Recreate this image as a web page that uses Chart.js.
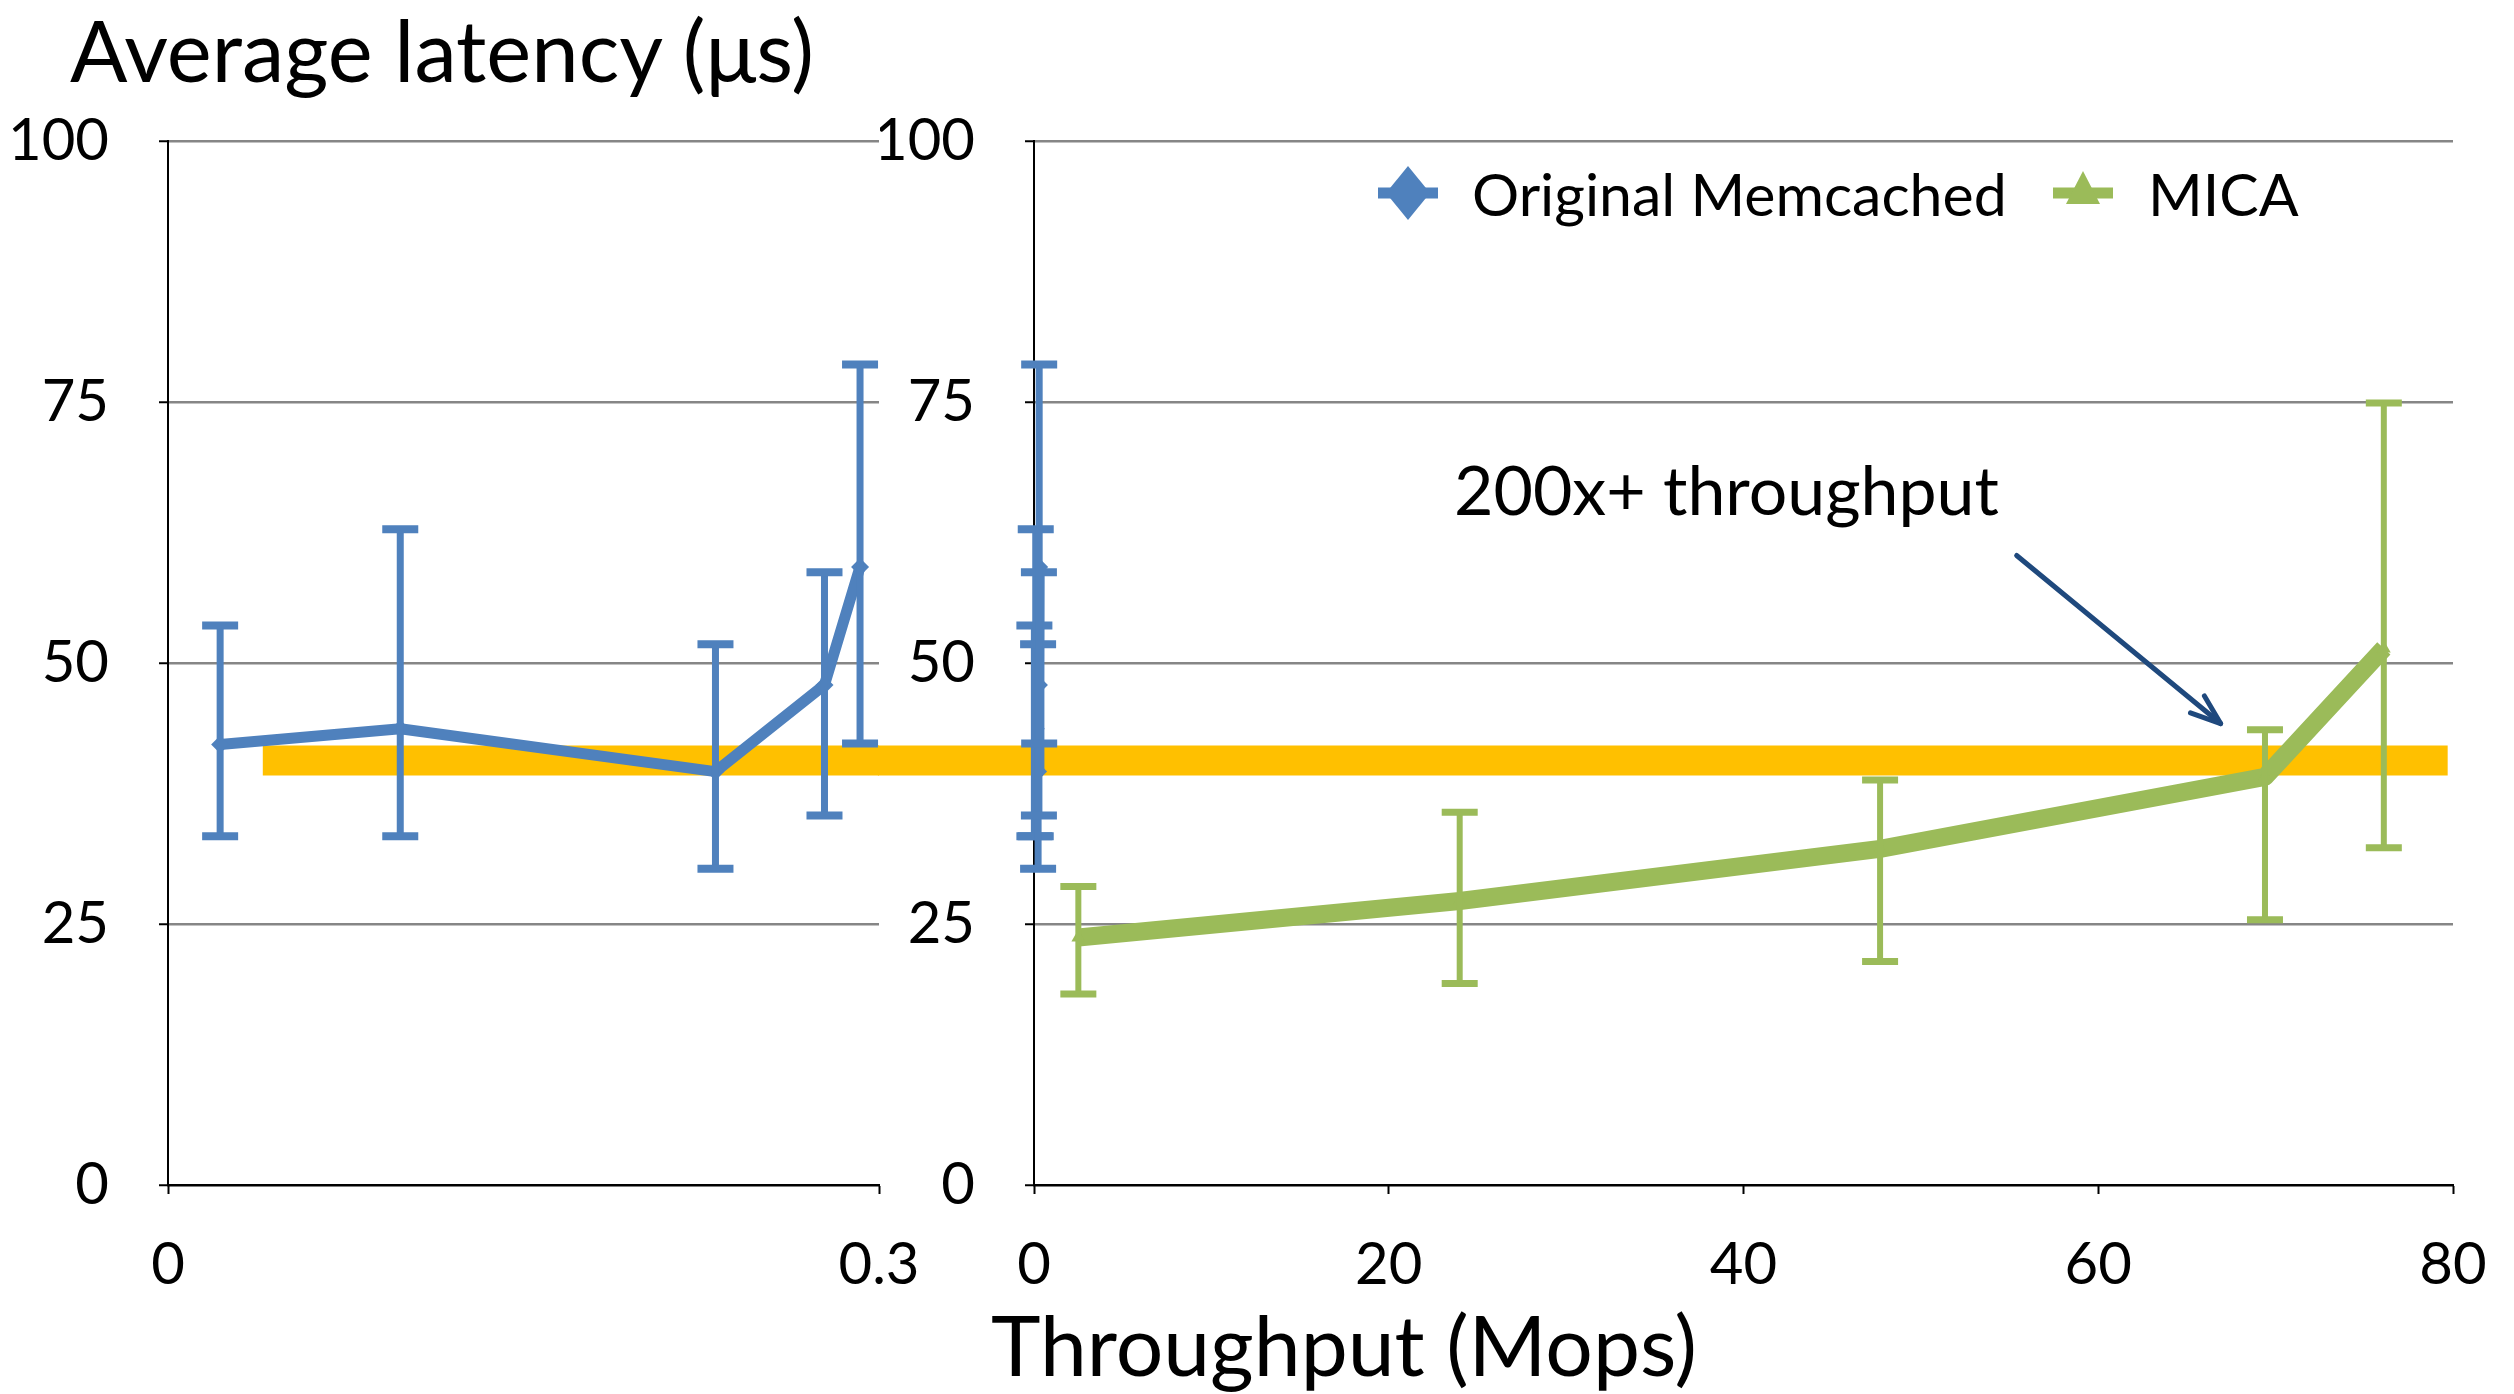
<!DOCTYPE html>
<html>
<head>
<meta charset="utf-8">
<script src="https://cdn.jsdelivr.net/npm/chart.js@4.4.0/dist/chart.umd.min.js"></script>
<style>
  body { margin: 0; background: #fff; }
  #wrap { position: relative; width: 2514px; height: 1394px; overflow: hidden; font-family: Lato, sans-serif; color: #000; }
  #wrap canvas { position: absolute; left: 0; top: 0; }
  .txt { position: absolute; white-space: nowrap; line-height: 1; }
</style>
</head>
<body>
<div id="wrap">
  <canvas id="left" width="2514" height="1394"></canvas>
  <canvas id="right" width="2514" height="1394"></canvas>
  <div class="txt" style="left:70px;top:7px;font-size:85px;">Average latency (μs)</div>
  <div class="txt" style="left:1344px;top:1302px;font-size:84px;transform:translateX(-50%);">Throughput (Mops)</div>
  <div class="txt" style="left:1454px;top:455px;font-size:68px;">200x+ throughput</div>
</div>
<script>
// Original Memcached: throughput (Mops) vs average latency (us), with error range
var memX  = [0.022, 0.098, 0.231, 0.277, 0.292];
var memY  = [42.2, 43.7, 39.6, 47.9, 59.2];
var memLo = [33.4, 33.4, 30.3, 35.4, 42.3];
var memHi = [53.6, 62.8, 51.8, 58.7, 78.6];

// MICA
var micaX  = [2.5, 24.0, 47.7, 69.4, 76.1];
var micaY  = [23.7, 27.2, 32.2, 39.1, 51.4];
var micaLo = [18.3, 19.3, 21.4, 25.4, 32.3];
var micaHi = [28.6, 35.7, 38.8, 43.6, 74.9];

// orange highlight band (same latency level on both panels)
var bandY = 40.65;
var bandLeftX = [0.04, 0.3];
var bandRightX = [-8.8, 79.7];

var yTicks = [0, 25, 50, 75, 100];
var leftXTicks = [0, 0.3];
var rightXTicks = [0, 20, 40, 60, 80];

var BLUE = '#4F81BD', GREEN = '#9BBB59', ORANGE = '#FFC000';

function pts(xs, ys) {
    return xs.map(function(x, i) { return {x: x, y: ys[i]}; });
}

var errorBars = {
    id: 'errorBars',
    afterDatasetsDraw: function(chart) {
        var c = chart.ctx, xs = chart.scales.x, ys = chart.scales.y;
        chart.data.datasets.forEach(function(ds) {
            if (!ds.errLo) return;
            c.save();
            c.strokeStyle = ds.borderColor;
            ds.data.forEach(function(p, j) {
                if (p.x < xs.min || p.x > xs.max) return;
                var px = xs.getPixelForValue(p.x);
                var top = ys.getPixelForValue(ds.errHi[j]);
                var bot = ys.getPixelForValue(ds.errLo[j]);
                c.lineWidth = ds.errWidth;
                c.beginPath(); c.moveTo(px, top); c.lineTo(px, bot); c.stroke();
                c.lineWidth = ds.capThick;
                c.beginPath();
                c.moveTo(px - ds.capHalf, top); c.lineTo(px + ds.capHalf, top);
                c.moveTo(px - ds.capHalf, bot); c.lineTo(px + ds.capHalf, bot);
                c.stroke();
            });
            c.restore();
        });
    }
};

var legendBox = {
    id: 'legendBox',
    afterDraw: function(chart, args, opts) {
        if (!opts.items) return;
        var c = chart.ctx;
        opts.items.forEach(function(it) {
            var ds = chart.data.datasets[it.dataset];
            c.save();
            c.strokeStyle = ds.borderColor;
            c.fillStyle = ds.borderColor;
            c.lineWidth = 11;
            c.beginPath(); c.moveTo(it.x - 30, it.y); c.lineTo(it.x + 30, it.y); c.stroke();
            c.beginPath();
            if (it.marker === 'diamond') {
                c.moveTo(it.x, it.y - 27); c.lineTo(it.x + 22, it.y);
                c.lineTo(it.x, it.y + 27); c.lineTo(it.x - 22, it.y);
            } else {
                c.moveTo(it.x, it.y - 22); c.lineTo(it.x + 17, it.y + 11);
                c.lineTo(it.x - 17, it.y + 11);
            }
            c.closePath();
            c.fill();
            c.fillStyle = '#000';
            c.font = opts.font;
            c.textBaseline = 'alphabetic';
            c.fillText(ds.label, it.textX, opts.baseline);
            c.restore();
        });
    }
};

var arrow = {
    id: 'arrow',
    afterDraw: function(chart, args, o) {
        if (!o.from) return;
        var xs = chart.scales.x, ys = chart.scales.y, c = chart.ctx;
        var x1 = xs.getPixelForValue(o.from[0]), y1 = ys.getPixelForValue(o.from[1]);
        var x2 = xs.getPixelForValue(o.to[0]), y2 = ys.getPixelForValue(o.to[1]);
        var a = Math.atan2(y2 - y1, x2 - x1), h = 32;
        c.save();
        c.strokeStyle = o.color;
        c.lineWidth = 5;
        c.lineCap = 'round';
        c.lineJoin = 'round';
        c.beginPath(); c.moveTo(x1, y1); c.lineTo(x2, y2); c.stroke();
        c.beginPath();
        c.moveTo(x2 - h * Math.cos(a - 0.35), y2 - h * Math.sin(a - 0.35));
        c.lineTo(x2, y2);
        c.lineTo(x2 - h * Math.cos(a + 0.35), y2 - h * Math.sin(a + 0.35));
        c.stroke();
        c.restore();
    }
};

function yScale(axisWidth) {
    return {
        type: 'linear', min: 0, max: 100,
        afterBuildTicks: function(s) { s.ticks = yTicks.map(function(v) { return {value: v}; }); },
        afterFit: function(s) { s.width = axisWidth; },
        grid: {
            color: function(ctx) { return ctx.tick && ctx.tick.value === 0 ? '#000' : '#868686'; },
            lineWidth: 2.5, tickLength: 9, tickColor: '#000', tickWidth: 2
        },
        border: {color: '#000', width: 2},
        ticks: {color: '#000', font: {size: 58}, padding: 50}
    };
}

function xScale(min, max, tickVals) {
    return {
        type: 'linear', min: min, max: max,
        afterBuildTicks: function(s) { s.ticks = tickVals.map(function(v) { return {value: v}; }); },
        // keep the plot edges where the layout padding puts them
        afterFit: function(s) { s.height = 209; s.paddingLeft = 0; s.paddingRight = 0; },
        grid: {drawOnChartArea: false, tickLength: 9, tickColor: '#000', tickWidth: 2},
        border: {color: '#000', width: 2},
        ticks: {color: '#000', font: {size: 58}, padding: 36, maxRotation: 0, autoSkip: false}
    };
}

function memDataset() {
    return {
        label: 'Original Memcached',
        data: pts(memX, memY),
        borderColor: BLUE, backgroundColor: BLUE,
        borderWidth: 11, borderJoinStyle: 'round',
        pointStyle: 'rectRot', pointRadius: 9, pointBorderWidth: 0,
        errLo: memLo, errHi: memHi, errWidth: 7, capHalf: 18, capThick: 8
    };
}

function bandDataset(xr) {
    return {
        label: 'band',
        data: pts(xr, [bandY, bandY]),
        borderColor: ORANGE, borderWidth: 30, borderCapStyle: 'butt',
        pointRadius: 0, clip: false, order: 10
    };
}

Chart.defaults.font.family = 'Lato, sans-serif';
Chart.defaults.color = '#000';

var common = {
    responsive: false, animation: false, devicePixelRatio: 1, events: [],
    plugins: {legend: {display: false}, tooltip: {enabled: false}},
    elements: {line: {tension: 0}}
};

new Chart(document.getElementById('left'), {
    type: 'line',
    data: {datasets: [memDataset(), bandDataset(bandLeftX)]},
    options: Object.assign({}, common, {
        layout: {padding: {left: 0, top: 141, right: 1635, bottom: 0}},
        scales: {x: xScale(0, 0.3, leftXTicks), y: yScale(168)}
    }),
    plugins: [errorBars]
});

new Chart(document.getElementById('right'), {
    type: 'line',
    data: {
        datasets: [
            memDataset(),
            {
                label: 'MICA',
                data: pts(micaX, micaY),
                borderColor: GREEN, backgroundColor: GREEN,
                borderWidth: 18, borderJoinStyle: 'round',
                pointStyle: 'triangle', pointRadius: 8, pointBorderWidth: 0,
                errLo: micaLo, errHi: micaHi, errWidth: 6, capHalf: 18, capThick: 7
            },
            bandDataset(bandRightX)
        ]
    },
    options: Object.assign({}, common, {
        layout: {padding: {left: 880, top: 141, right: 61, bottom: 0}},
        scales: {x: xScale(0, 80, rightXTicks), y: yScale(154)},
        plugins: {
            legend: {display: false}, tooltip: {enabled: false},
            legendBox: {
                font: '59px Lato, sans-serif', baseline: 216,
                items: [
                    {dataset: 0, marker: 'diamond', x: 1408, y: 193, textX: 1472},
                    {dataset: 1, marker: 'triangle', x: 2083, y: 193, textX: 2148}
                ]
            },
            arrow: {from: [55.4, 60.3], to: [66.9, 44.2], color: '#1F497D'}
        }
    }),
    plugins: [errorBars, legendBox, arrow]
});
</script>
</body>
</html>
